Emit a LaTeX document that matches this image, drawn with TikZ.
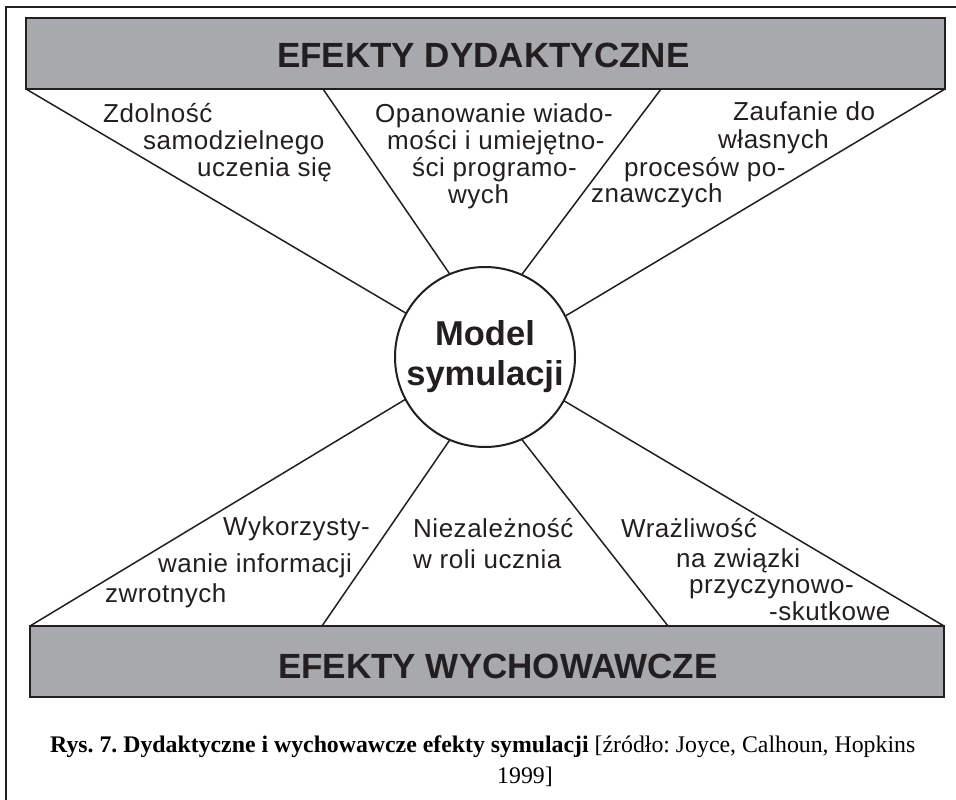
\documentclass[tikz,border=0pt]{standalone}
\usepackage{fontspec}
\setmainfont{Liberation Sans}
\newfontfamily\lblfont[LetterSpace=2]{Liberation Sans}
\newfontfamily\capfont{Liberation Serif}
\definecolor{bargray}{RGB}{167,169,172}
\definecolor{inkblack}{RGB}{35,31,32}
\frenchspacing
\tikzset{
x=1pt, y=-1pt, % one unit is one pixel of the scan, y runs down
bar/.style={rectangle, draw=inkblack, line width=2.4pt, fill=bargray, inner sep=0pt, outer sep=0pt, minimum height=71pt}, % grey band
heading/.style={anchor=base west, inner sep=0pt, text=inkblack, font=\bfseries\fontsize{35}{40}\selectfont},
hub/.style={circle, draw=inkblack, line width=2pt, fill=white, minimum size=180pt, inner sep=0pt, outer sep=0pt, align=center, text=inkblack, font=\bfseries\fontsize{34.5}{40}\selectfont},
effect/.style={anchor=base west, inner sep=0pt, text=inkblack, font=\lblfont\fontsize{26}{27}\selectfont}, % one line of a label
spoke/.style={draw=inkblack, line width=1.5pt},
caption/.style={anchor=base west, inner sep=0pt, font=\capfont\fontsize{23.8}{26}\selectfont},
}

\begin{document}
\begin{tikzpicture}
  \useasboundingbox (0,0) rectangle (956,800);

  % frame, cut off by the page on the right and at the bottom
  \coordinate (fa) at (6,800);
  \coordinate (fb) at (6,7);
  \coordinate (fc) at (956,7);
  \draw[line width=2pt, inkblack] (fa) -- (fb) -- (fc);

  \node[bar, minimum width=919pt] (topbar) at (485.5,53.5) {};
  \node[bar, minimum width=914pt] (botbar) at (487,661.5) {};
  \node[heading] (tophead) at (277,68) {EFEKTY DYDAKTYCZNE};
  \node[heading] (bothead) at (278,678) {EFEKTY WYCHOWAWCZE};

  \coordinate (t2) at (323,89);
  \coordinate (t3) at (661,89);
  \coordinate (b2) at (322,626);
  \coordinate (b3) at (668,626);

  \node[hub] (model) at (485,357) {Model\\symulacji};

  \draw[spoke] (topbar.south west) edge (model.151)
  (t2) edge (model.113)
  (t3) edge (model.66)
  (topbar.south east) edge (model.27)
  (botbar.north west) edge (model.208)
  (b2) edge (model.247)
  (b3) edge (model.294)
  (botbar.north east) edge (model.331);

  % labels, line by line
  \foreach \n/\x/\y/\t in {
    za/103/122/Zdolność, zb/143/149/samodzielnego, zc/197/176/uczenia się,
    oa/375/122/Opanowanie wiado-, ob/387/149/mości i umiejętno-, oc/412/176/ści programo-, od/448/203/wych,
    fa/733/121/Zaufanie do, fb/718/148/własnych, fc/624/176/procesów po-, fd/591/202/znawczych,
    wa/223/535/Wykorzysty-, wb/158/572/wanie informacji, wc/105/602/zwrotnych,
    na/413/537/Niezależność, nb/413/568/w roli ucznia,
    ra/621/537/Wrażliwość, rb/676/567/na związki, rc/689/593/przyczynowo-, rd/769/620/-skutkowe}
    \node[effect] (lbl-\n) at (\x,\y) {\t};

  \node[caption] (capline) at (50,752) {\textbf{Rys. 7. Dydaktyczne i wychowawcze efekty symulacji} [źródło: Joyce, Calhoun, Hopkins};
  \node[caption] (capyear) at (497,783) {1999]};
\end{tikzpicture}
\end{document}
